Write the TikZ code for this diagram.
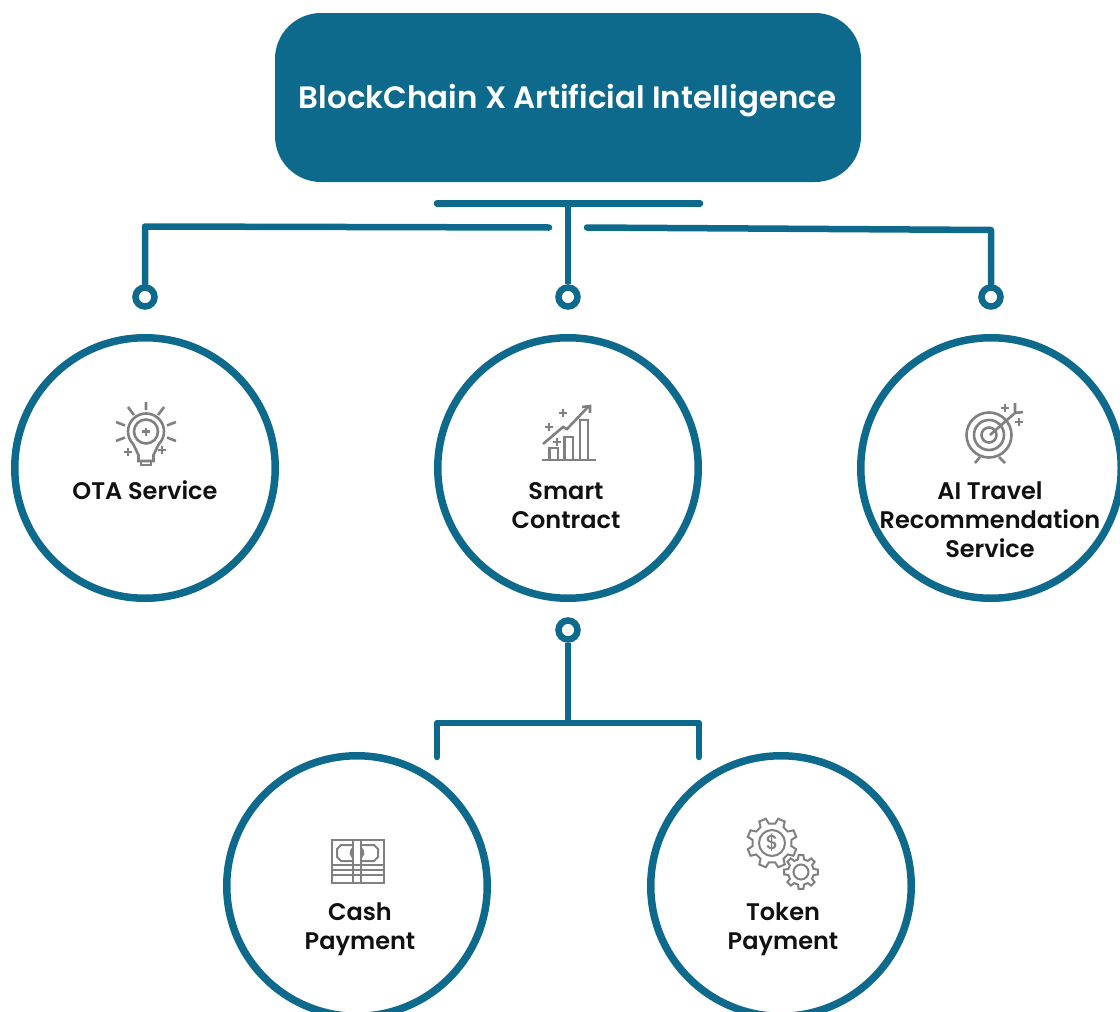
\documentclass[tikz,border=0pt]{standalone}
\usepackage{fontspec}
\setmainfont{Poppins Medium}
\newfontfamily\labelfont{Poppins SemiBold}
\definecolor{teal1}{HTML}{0E6A8C}
\definecolor{icon}{HTML}{808080}
\definecolor{ink}{HTML}{111111}
\tikzset{
  x=1pt,y=-1pt,
  link/.style={draw=teal1,line width=6.5pt,line cap=round,line join=round},
  dot/.style={circle,draw=teal1,fill=white,line width=6.5pt,minimum size=19pt,inner sep=0pt},
  bigcircle/.style={circle,draw=teal1,fill=white,line width=7.5pt,minimum size=260.5pt,inner sep=0pt},
  label/.style={font=\labelfont\fontsize{24}{29}\selectfont,text=ink,align=center,inner sep=0pt,anchor=base},
  titlebox/.style={rounded corners=46pt,fill=teal1,minimum width=586pt,minimum height=169pt,inner sep=0pt},
  ic/.style={draw=icon,line width=2.6pt,line join=miter},
  icthin/.style={draw=icon,line width=2pt,line join=miter},
}
\newcommand{\iplus}[2]{\draw[ic] (#1-4,#2) -- (#1+4,#2) (#1,#2-4) -- (#1,#2+4);}
\newcommand{\igear}[7]{% cx cy router rroot rhole teeth offset
  \draw[icthin] ({#1+#4*cos(#7-0.5*360/#6)},{#2+#4*sin(#7-0.5*360/#6)})
  \foreach \k in {0,...,#6}{
    -- ({#1+#4*cos(#7+\k*360/#6-0.3*360/#6)},{#2+#4*sin(#7+\k*360/#6-0.3*360/#6)})
    -- ({#1+#3*cos(#7+\k*360/#6-0.18*360/#6)},{#2+#3*sin(#7+\k*360/#6-0.18*360/#6)})
    -- ({#1+#3*cos(#7+\k*360/#6+0.18*360/#6)},{#2+#3*sin(#7+\k*360/#6+0.18*360/#6)})
    -- ({#1+#4*cos(#7+\k*360/#6+0.3*360/#6)},{#2+#4*sin(#7+\k*360/#6+0.3*360/#6)})
  };
  \draw[icthin] (#1,#2) circle[radius=#5];
}
\begin{document}
\begin{tikzpicture}
\useasboundingbox[fill=white] (0,0) rectangle (1120,1012);
% title
\node[titlebox] (title) at (568,97.5) {};
\node[font=\labelfont\fontsize{30.9}{38}\selectfont,text=white,inner sep=0pt] (titletext) at (567.5,101) {BlockChain X Artificial Intelligence};
% circles
\node[bigcircle] (ota) at (145,468) {};
\node[bigcircle] (smart) at (568,468) {};
\node[bigcircle] (ai) at (991,468) {};
\node[bigcircle] (cash) at (357,886) {};
\node[bigcircle] (token) at (781,886) {};
% labels
\node[label] (otat) at (145,499) {OTA Service};
\node[label,anchor=north] (smartt) at (566,482) {Smart\\Contract};
\node[label,anchor=north] (ait) at (990,482) {AI Travel\\Recommendation\\Service};
\node[label,anchor=north] (casht) at (360,902.5) {Cash\\Payment};
\node[label,anchor=north] (tokent) at (783,902.5) {Token\\Payment};
% connectors
\coordinate (barL) at (437,203.5);
\coordinate (barR) at (700,203.5);
\coordinate (barM) at (568,203.5);
\coordinate (leftS) at (549,227.5);
\coordinate (leftC) at (145,226.5);
\coordinate (rightS) at (587,227.5);
\coordinate (rightC) at (991,230);
\coordinate (lowM) at (568,723);
\coordinate (lowL) at (437,723);
\coordinate (lowR) at (699,723);
\coordinate (lowLe) at (437,757);
\coordinate (lowRe) at (699,757);
\node[dot] (d1) at (145,297) {};
\node[dot] (d2) at (568,297) {};
\node[dot] (d3) at (991,297) {};
\node[dot] (d4) at (568,630) {};
\draw[link] (barL) -- (barR);
\draw[link,line cap=butt] (barM) -- (d2.north);
\draw[link] (d1.north) -- (leftC) -- (leftS);
\draw[link] (d3.north) -- (rightC) -- (rightS);
\draw[link,line cap=butt] (d4.south) -- (lowM);
\draw[link] (lowLe) -- (lowL) -- (lowR) -- (lowRe);
% bulb
\draw[ic] (146,431.5) circle[radius=12];
\draw[ic] (133.3,444.2) arc[start angle=135,end angle=405,radius=18] -- (153.5,455) -- (153.5,461) -- (138.5,461) -- (138.5,455) -- cycle;
\draw[ic] (141,461) -- (141,465) -- (151,465) -- (151,461);
\draw[ic] (146,402) -- (146,410) (128,407) -- (134,415) (164,407) -- (158,415) (116,422) -- (125,425.5) (176,422) -- (167,425.5) (116,441) -- (125,437.5) (176,441) -- (167,437.5);
\iplus{146}{431.5}\iplus{128}{452}\iplus{162}{450}
% chart
\draw[ic] (542,460) -- (596,460);
\draw[ic] (549.5,460) |- (558,448) -- (558,460);
\draw[ic] (564.5,460) |- (573,437) -- (573,460);
\draw[ic] (580,460) |- (588,420) -- (588,460);
\draw[ic] (543,444) -- (563,427) -- (567,429) -- (588,407);
\draw[ic] (582,407) -- (590,406) -- (590,413);
\iplus{563}{413}\iplus{549}{427}\iplus{557}{442}
% target
\draw[ic] (989,435) circle[radius=22.5] circle[radius=15] circle[radius=7.5];
\draw[ic] (990,435) -- (1015,413) (1015,403) -- (1015,413) -- (1023,412);
\draw[ic] (980,457) -- (975,463) (999,457) -- (1005,463);
\iplus{1005}{408}\iplus{1019}{422}
% cash
\draw[icthin] (331.5,840) rectangle (384,883);
\draw[icthin] (331.5,865) -- (384,865) (331.5,870) -- (384,870) (331.5,875) -- (384,875);
\draw[icthin] (353,840) -- (353,883) (361,840) -- (361,883);
\draw[icthin] (353,845) -- (341,845) -- (337,849) -- (337,857) -- (341,861) -- (353,861) (361,845) -- (374,845) -- (378,849) -- (378,857) -- (374,861) -- (361,861);
\draw[icthin] (353,848) arc[start angle=231,end angle=129,radius=6.4] (361,848) arc[start angle=-51,end angle=51,radius=6.4];
% gears
\igear{772}{843}{25}{19.5}{13}{8}{22.5}
\igear{801}{872}{17}{13}{7.5}{8}{0}
\node[font=\fontsize{20}{20}\selectfont,text=icon,inner sep=0pt] (dollar) at (772,843) {\$};
\end{tikzpicture}
\end{document}
